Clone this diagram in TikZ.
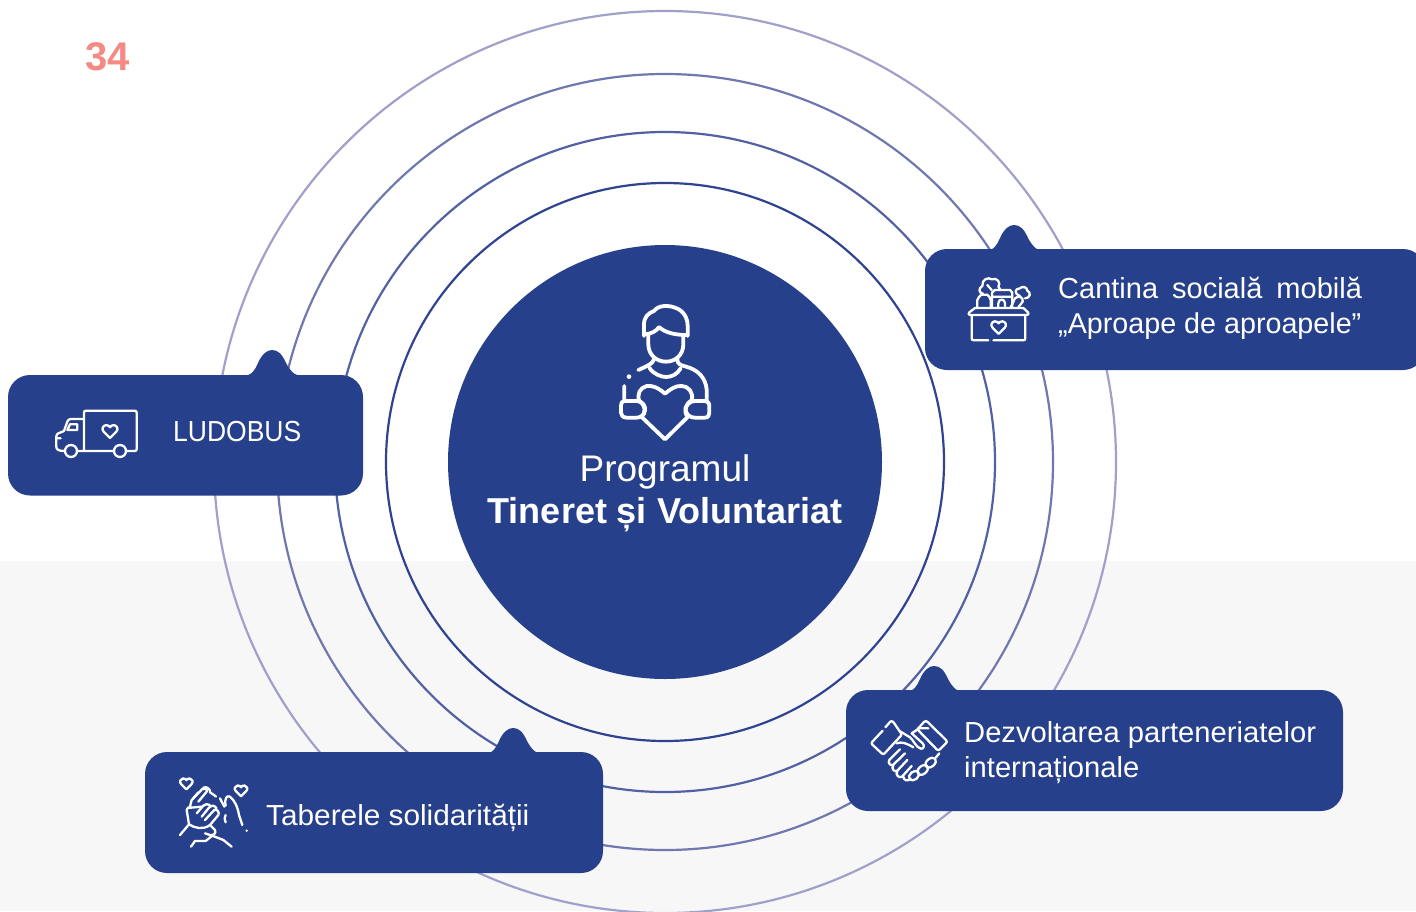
\documentclass[tikz,border=0pt]{standalone}
\usepackage{fontspec}
\setmainfont{Liberation Sans}
\definecolor{navy}{HTML}{27408B}
\definecolor{ringa}{HTML}{2F4391}
\definecolor{ringb}{HTML}{5261A3}
\definecolor{ringc}{HTML}{7078B0}
\definecolor{ringd}{HTML}{A0A0CB}
\definecolor{paper}{HTML}{F7F7F8}
\definecolor{salmon}{HTML}{F58A85}
\tikzset{
  calloutbox/.style={fill=navy,rounded corners=22pt,anchor=north west,inner sep=0pt,outer sep=0pt},
  bump/.style={fill=navy,draw=none},
  ring/.style={draw=#1,line width=2.2pt,fill=none},
  label/.style={text=white,anchor=west,inner sep=0pt,font=\fontsize{29}{35}\selectfont,align=left},
  iconbig/.style={draw=white,line width=3.8pt,line cap=round,line join=round},
  icon/.style={draw=white,line width=2.3pt,line cap=round,line join=round}
}
\newcommand{\bumpat}[2]{\path[bump] (#1-30,#2+26) .. controls (#1-20,#2+26) and (#1-17,#2+20) .. (#1-14,#2+13) .. controls (#1-10,#2+4) and (#1-5,#2) .. (#1,#2) .. controls (#1+6,#2) and (#1+10,#2+4) .. (#1+14,#2+13) .. controls (#1+18,#2+20) and (#1+21,#2+26) .. (#1+32,#2+26) -- cycle;}
\newcommand{\heartat}[3]{\draw[icon,shift={(#1,#2)},scale=#3] (0,13) -- (-12,1) .. controls (-17,-4) and (-14,-11) .. (-8,-12) .. controls (-4,-12.5) and (-1,-10) .. (0,-8) .. controls (1,-10) and (4,-12.5) .. (8,-12) .. controls (14,-11) and (17,-4) .. (12,1) -- cycle;}
\begin{document}
\begin{tikzpicture}[x=1pt,y=-1pt]
\useasboundingbox (0,0) rectangle (1416,911);
\clip (0,0) rectangle (1416,911);
\fill[white] (0,0) rectangle (1416,561);
\fill[paper] (0,561) rectangle (1416,911);
\node[text=salmon,inner sep=0pt,font=\bfseries\fontsize{40}{40}\selectfont] (pagenum) at (108,57) {34};
\coordinate (centre) at (665,462);
\draw[ring=ringd] (centre) circle[radius=451];
\draw[ring=ringc] (centre) circle[radius=388];
\draw[ring=ringb] (centre) circle[radius=330];
\draw[ring=ringa] (centre) circle[radius=279];
\fill[navy] (centre) circle[radius=217];
\node[text=white,inner sep=0pt,align=center,font=\fontsize{36}{42}\selectfont] (core) at (665,493.5) {\fontsize{37}{42}\selectfont Programul\\[0.5pt]{\bfseries\fontsize{36}{42}\selectfont Tineret și Voluntariat}};

% person icon
\begin{scope}[shift={(590,291)},x=0.3333pt,y=-0.3333pt]
\draw[iconbig] (162,135) -- (162,100) .. controls (162,78) and (175,66) .. (192,60) .. controls (205,42) and (235,42) .. (255,50) .. controls (280,58) and (293,80) .. (293,105) -- (293,135) (165,130) .. controls (185,128) and (200,120) .. (207,108) .. controls (225,125) and (255,132) .. (290,132);
\draw[iconbig] (175,130) -- (175,160) .. controls (175,192) and (200,212) .. (228,212) .. controls (256,212) and (280,192) .. (280,160) -- (280,135);
\draw[iconbig] (192,198) -- (192,205) .. controls (190,218) and (165,228) .. (145,237);
\draw[iconbig] (178,230) .. controls (190,250) and (215,258) .. (228,258) .. controls (245,258) and (262,250) .. (272,232);
\draw[iconbig] (262,205) .. controls (262,218) and (270,222) .. (285,226) .. controls (325,236) and (346,260) .. (350,295) -- (350,330);
\draw[iconbig] (225,308) .. controls (205,290) and (185,282) .. (170,285) .. controls (150,290) and (140,310) .. (148,330) (148,330) .. controls (165,340) and (170,365) .. (155,378) -- (225,445) -- (293,378) .. controls (280,360) and (285,340) .. (305,328) .. controls (312,305) and (295,285) .. (275,285) .. controls (258,283) and (240,295) .. (225,308);
\draw[iconbig] (103,285) -- (103,328) (103,330) -- (140,330) .. controls (158,330) and (167,345) .. (165,358) .. controls (163,372) and (152,380) .. (140,380) -- (110,380) .. controls (98,380) and (93,372) .. (93,365) -- (93,345) .. controls (93,335) and (98,330) .. (103,330);
\draw[iconbig] (345,330) -- (315,330) .. controls (298,330) and (285,345) .. (287,358) .. controls (290,372) and (300,380) .. (315,380) -- (345,380) .. controls (355,380) and (358,372) .. (358,365) -- (358,345) .. controls (358,335) and (352,330) .. (345,330);
\fill[white] (117,257) circle[radius=7];
\end{scope}

% LUDOBUS
\bumpat{272}{350}
\node[calloutbox,minimum width=355pt,minimum height=120.5pt] (boxa) at (8,375) {};
\node[label,xscale=0.914,transform shape] (texta) at (173,432) {LUDOBUS};
\begin{scope}[shift={(40,345)},x=0.3333pt,y=-0.3333pt]
\draw[icon] (132,222) -- (132,203) .. controls (132,199) and (134,197) .. (138,197) -- (284,197) .. controls (288,197) and (290,199) .. (290,203) -- (290,312) .. controls (290,316) and (288,318) .. (284,318) -- (258,318) (222,318) -- (111,318) (132,222) -- (132,318);
\draw[icon] (132,222) -- (92,222) .. controls (86,222) and (84,226) .. (82,230) -- (72,258) -- (55,265) .. controls (51,267) and (49,270) .. (49,275) -- (49,305) .. controls (49,314) and (55,318) .. (75,318);
\draw[icon] (82,255) -- (90,238) -- (112,238) -- (112,255) -- cycle (49,280) -- (62,280);
\draw[icon] (93,318) circle[radius=18] (240,318) circle[radius=18];
\heartat{210}{259}{1.55}
\end{scope}

% Cantina
\bumpat{1014}{225}
\node[calloutbox,minimum width=500pt,minimum height=121pt] (boxb) at (925,249) {};
\node[label] (textb) at (1058,308) {Cantina\hspace{6pt} socială\hspace{6pt} mobilă\\\fontsize{28.7}{35}\selectfont „Aproape de aproapele”};
\begin{scope}[shift={(950,220)},x=0.3333pt,y=-0.3333pt]
\draw[icon] (65,287) -- (65,355) .. controls (65,359) and (67,361) .. (71,361) -- (115,361) (130,361) -- (220,361) .. controls (224,361) and (226,359) .. (226,355) -- (226,287);
\draw[icon] (60,285) -- (230,285) .. controls (236,285) and (237,281) .. (234,277) -- (220,264) -- (75,264) -- (58,277) .. controls (54,281) and (55,285) .. (60,285);
\draw[icon] (82,262) -- (82,240) .. controls (82,232) and (92,228) .. (94,224) -- (112,224) .. controls (116,230) and (122,232) .. (122,240) -- (122,262);
\draw[icon] (126,262) -- (126,218) -- (134,210) -- (180,210) -- (187,218) -- (187,262) (126,230) -- (187,230) (145,262) -- (145,250) .. controls (145,235) and (165,235) .. (165,250) -- (165,262);
\draw[icon] (100,222) .. controls (85,218) and (85,205) .. (97,198) .. controls (95,178) and (115,170) .. (125,178) .. controls (140,170) and (155,190) .. (145,200) .. controls (152,205) and (150,210) .. (148,210) (112,195) -- (125,210);
\draw[icon] (182,262) -- (195,235) .. controls (205,225) and (222,232) .. (218,245) -- (205,262);
\draw[icon] (210,228) .. controls (190,220) and (195,205) .. (210,205) .. controls (215,198) and (232,200) .. (232,212) .. controls (245,218) and (240,235) .. (225,235);
\heartat{146}{322}{1.5}
\end{scope}

% Dezvoltarea
\bumpat{934}{666}
\node[calloutbox,minimum width=497pt,minimum height=121pt] (boxc) at (846,690) {};
\node[label,xscale=1.006,transform shape] (textc) at (964,752.5) {Dezvoltarea parteneriatelor\\internaționale};
\begin{scope}[shift={(860,660)},x=0.3333pt,y=-0.3333pt]
\draw[icon] (68,212) -- (37,245) .. controls (34,249) and (34,251) .. (37,254) -- (65,280) .. controls (68,283) and (71,283) .. (74,280) -- (122,228) .. controls (125,224) and (125,222) .. (122,218) -- (100,186) .. controls (96,182) and (92,183) .. (90,186) -- (76,202);
\draw[icon] (205,205) -- (175,205) (172,208) -- (192,186) .. controls (196,182) and (200,182) .. (203,186) -- (258,240) .. controls (261,243) and (261,247) .. (258,250) -- (240,268) .. controls (237,271) and (233,271) .. (230,268) -- (172,208);
\draw[icon] (122,215) -- (150,232) .. controls (160,240) and (168,262) .. (182,266) .. controls (192,268) and (194,256) .. (188,250) -- (155,220) -- (170,210);
\draw[icon] (110,250) .. controls (125,244) and (140,250) .. (160,262);
\draw[icon] (120,268) -- (88,300) .. controls (82,308) and (92,320) .. (100,314) -- (135,280);
\draw[icon] (100,316) .. controls (92,326) and (104,338) .. (112,332) -- (142,300);
\draw[icon] (112,334) .. controls (104,344) and (118,356) .. (126,350) -- (155,318);
\draw[icon] (130,350) .. controls (130,362) and (145,365) .. (152,356);
\draw[icon,shift={(162,347)},rotate=40] (0,0) ellipse[x radius=17,y radius=12];
\draw[icon,shift={(188,330)},rotate=40] (0,0) ellipse[x radius=18,y radius=12];
\draw[icon,shift={(212,308)},rotate=40] (0,0) ellipse[x radius=18,y radius=12];
\draw[icon] (228,292) -- (238,280);
\end{scope}

% Taberele
\bumpat{513}{728}
\node[calloutbox,minimum width=458pt,minimum height=121pt] (boxd) at (145,752) {};
\node[label,xscale=1.027,transform shape] (textd) at (266,818) {Taberele solidarității};
\begin{scope}[shift={(165,765)},x=0.3333pt,y=-0.3333pt]
\heartat{64}{56}{1.3}
\heartat{228}{77}{1.3}
\draw[icon] (45,210) -- (72,178) -- (65,135) .. controls (65,128) and (72,125) .. (78,128) -- (110,125) (75,125) -- (80,105) -- (112,72) .. controls (118,68) and (128,72) .. (125,80) -- (100,110);
\draw[icon] (100,82) -- (85,100) (115,68) .. controls (125,62) and (138,75) .. (135,82) -- (150,92);
\draw[icon] (72,178) .. controls (90,190) and (115,195) .. (135,180) -- (160,150) .. controls (165,142) and (155,130) .. (148,135) -- (120,165) (155,130) .. controls (148,120) and (140,120) .. (132,128) -- (110,155) (135,120) .. controls (128,115) and (120,118) .. (115,122) -- (95,145) (135,180) -- (150,195) .. controls (155,205) and (145,212) .. (135,210) -- (120,205);
\draw[icon] (78,245) -- (90,228) -- (122,228) -- (142,212) (142,212) -- (175,225) -- (200,245);
\draw[icon] (182,122) .. controls (178,100) and (185,90) .. (195,95) .. controls (208,105) and (218,125) .. (222,150) -- (232,180);
\draw[icon] (165,100) -- (178,125) (150,92) -- (153,95) (182,150) .. controls (178,160) and (178,165) .. (182,172);
\fill[white] (245,197) circle[radius=4];
\end{scope}
\end{tikzpicture}
\end{document}
